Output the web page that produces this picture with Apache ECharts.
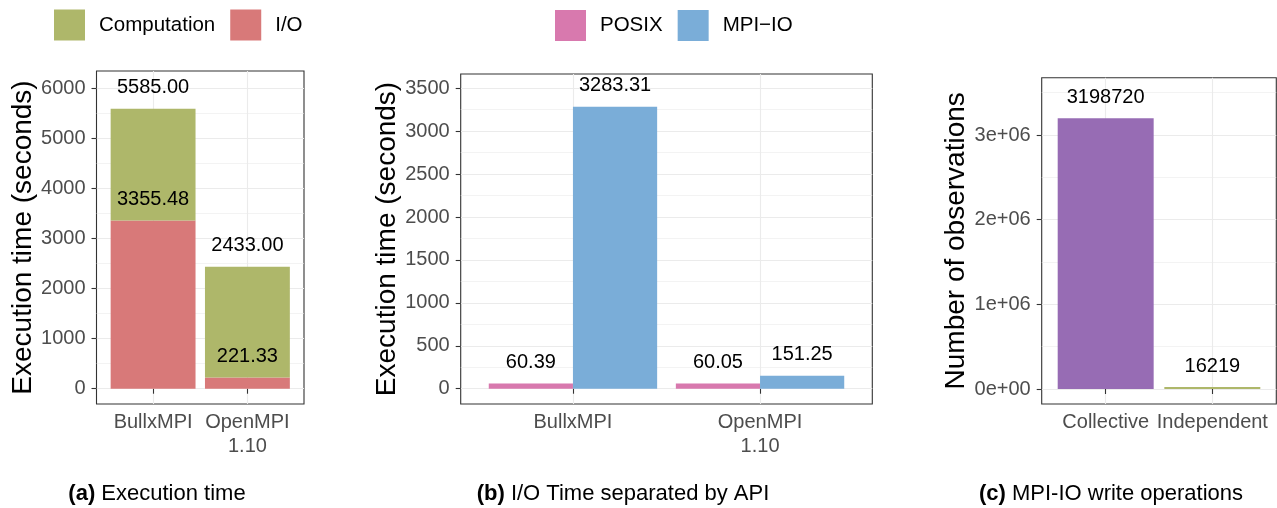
<!DOCTYPE html>
<html><head><meta charset="utf-8">
<script src="https://cdn.jsdelivr.net/npm/echarts@6/dist/echarts.min.js"></script>
<style>html,body{margin:0;padding:0;background:#fff}#c{width:1277px;height:508px}</style>
</head><body><div id="c"></div>
<script>
// ---- Panel (a): execution time ----
const mpiCategories = ['BullxMPI', 'OpenMPI\n1.10'];
const ioTime = [3355.48, 221.33];
const totalTime = [5585.00, 2433.00];
const computationTime = totalTime.map((t, i) => +(t - ioTime[i]).toFixed(2));
// ---- Panel (b): I/O time by API ----
const posixTime = [60.39, 60.05];
const mpiioTime = [3283.31, 151.25];
// ---- Panel (c): MPI-IO write operations ----
const writeCategories = ['Collective', 'Independent'];
const writeCounts = [3198720, 16219];
// ---- Tick values / labels ----
const ticksA = [0, 1000, 2000, 3000, 4000, 5000, 6000];
const minorA = [500, 1500, 2500, 3500, 4500, 5500];
const ticksB = [0, 500, 1000, 1500, 2000, 2500, 3000, 3500];
const minorB = [250, 750, 1250, 1750, 2250, 2750, 3250];
const ticksC = [0, 1000000, 2000000, 3000000];
const tickLabelsC = ['0e+00', '1e+06', '2e+06', '3e+06'];
const minorC = [500000, 1500000, 2500000, 3500000];

const COL = {comp: '#AEB76A', io: '#D87979', posix: '#D879AE', mpiio: '#7AADD8', coll: '#976CB4', indep: '#AEB76A'};
const FONT = 'Liberation Sans';

// layout of the three panels (pixels) and y-ranges
const panels = [
  {left: 96.5, right: 304, top: 71, bottom: 404, yMin: -305, yMax: 6339},
  {left: 460.7, right: 872.3, top: 74, bottom: 404, yMin: -178, yMax: 3666},
  {left: 1041.7, right: 1276.3, top: 77.7, bottom: 404, yMin: -177000, yMax: 3677000}
];
const grids = [];
panels.forEach(p => {
  const w = p.right - p.left, unit = w / 2.2;
  grids.push({left: p.left, top: p.top, width: w, height: p.bottom - p.top, show: true,
    borderColor: '#333333', borderWidth: 1.1, backgroundColor: '#fff', containLabel: false});
  grids.push({left: p.left + 0.1 * unit, top: p.top, width: 2 * unit, height: p.bottom - p.top, containLabel: false});
});

function outerX(gi, cats) {
  return {type: 'value', gridIndex: gi, min: 0.4, max: 2.6,
    axisLine: {show: false},
    axisTick: {show: true, customValues: [1, 2], length: 5, lineStyle: {color: '#333', width: 1.1}},
    axisLabel: {customValues: [1, 2], formatter: v => cats[Math.round(v) - 1], margin: 6,
      fontSize: 20, lineHeight: 24, color: '#4D4D4D', fontFamily: FONT},
    splitLine: {show: true, lineStyle: {color: '#EBEBEB', width: 1.1}}};
}
function innerX(gi, cats) { return {type: 'category', gridIndex: gi, data: cats, show: false}; }
function majorY(gi, p, ticks, fmt, name, gap) {
  return {type: 'value', gridIndex: gi, min: p.yMin, max: p.yMax, position: 'left',
    axisLine: {show: false},
    axisTick: {show: true, customValues: ticks, length: 5, lineStyle: {color: '#333', width: 1.1}},
    axisLabel: {customValues: ticks, formatter: fmt, margin: 11, fontSize: 20, color: '#4D4D4D', fontFamily: FONT},
    splitLine: {show: true, lineStyle: {color: '#EBEBEB', width: 1.1}},
    name: name, nameLocation: 'middle', nameGap: gap,
    nameTextStyle: {fontSize: 28, color: '#000', fontFamily: FONT}};
}
function minorY(gi, p, minors) {
  return {type: 'value', gridIndex: gi, min: p.yMin, max: p.yMax, position: 'right',
    axisLine: {show: false}, axisTick: {show: false, customValues: minors},
    axisLabel: {show: false, customValues: minors},
    splitLine: {show: true, lineStyle: {color: '#EBEBEB', width: 0.6}}};
}
function innerY(gi, p) { return {type: 'value', gridIndex: gi, min: p.yMin, max: p.yMax, show: false}; }

const labelStyle = {show: true, position: 'top', distance: 11, fontSize: 20, color: '#000', fontFamily: FONT};

const option = {
  animation: false,
  backgroundColor: '#fff',
  textStyle: {fontFamily: FONT},
  grid: grids,
  xAxis: [
    outerX(0, mpiCategories), innerX(1, mpiCategories),
    outerX(2, mpiCategories), innerX(3, mpiCategories),
    outerX(4, writeCategories), innerX(5, writeCategories)
  ],
  yAxis: [
    majorY(0, panels[0], ticksA, v => String(v), 'Execution time (seconds)', 58), minorY(0, panels[0], minorA), innerY(1, panels[0]),
    majorY(2, panels[1], ticksB, v => String(v), 'Execution time (seconds)', 58), minorY(2, panels[1], minorB), innerY(3, panels[1]),
    majorY(4, panels[2], ticksC, v => tickLabelsC[ticksC.indexOf(v)], 'Number of observations', 70), minorY(4, panels[2], minorC), innerY(5, panels[2])
  ],
  legend: [
    {data: ['Computation', 'I/O'], left: 54, top: 9.5, padding: 0, itemWidth: 31, itemHeight: 31, itemGap: 15,
      icon: 'rect', textStyle: {fontSize: 20.5, color: '#000', fontFamily: FONT, padding: [0, 0, 0, 9]}},
    {data: ['POSIX', 'MPI\u2212IO'], left: 555, top: 10, padding: 0, itemWidth: 31, itemHeight: 31, itemGap: 15,
      icon: 'rect', textStyle: {fontSize: 20.5, color: '#000', fontFamily: FONT, padding: [0, 0, 0, 9]}}
  ],
  series: [
    {name: 'I/O', type: 'bar', xAxisIndex: 1, yAxisIndex: 2, stack: 'a', barWidth: '90%', data: ioTime,
      itemStyle: {color: COL.io}, label: Object.assign({}, labelStyle, {formatter: p => p.value.toFixed(2)})},
    {name: 'Computation', type: 'bar', xAxisIndex: 1, yAxisIndex: 2, stack: 'a', barWidth: '90%', data: computationTime,
      itemStyle: {color: COL.comp}, label: Object.assign({}, labelStyle, {formatter: p => totalTime[p.dataIndex].toFixed(2)})},
    {name: 'POSIX', type: 'bar', xAxisIndex: 3, yAxisIndex: 5, barGap: '0%', barCategoryGap: '10%', data: posixTime,
      itemStyle: {color: COL.posix}, label: Object.assign({}, labelStyle, {formatter: p => p.value.toFixed(2)})},
    {name: 'MPI\u2212IO', type: 'bar', xAxisIndex: 3, yAxisIndex: 5, barGap: '0%', barCategoryGap: '10%', data: mpiioTime,
      itemStyle: {color: COL.mpiio}, label: Object.assign({}, labelStyle, {formatter: p => p.value.toFixed(2)})},
    {name: 'Write operations', type: 'bar', xAxisIndex: 5, yAxisIndex: 8, barWidth: '90%', barMinHeight: 2,
      data: writeCounts.map((v, i) => ({value: v, itemStyle: {color: i === 0 ? COL.coll : COL.indep}})),
      label: Object.assign({}, labelStyle, {formatter: p => String(p.value)})}
  ],
  graphic: [
    {type: 'text', x: 157, y: 494, style: {text: '{b|(a)} Execution time', align: 'center', verticalAlign: 'middle',
      fontSize: 22, fontFamily: FONT, fill: '#000', rich: {b: {fontWeight: 'bold', fontSize: 22, fontFamily: FONT}}}},
    {type: 'text', x: 623, y: 494, style: {text: '{b|(b)} I/O Time separated by API', align: 'center', verticalAlign: 'middle',
      fontSize: 22, fontFamily: FONT, fill: '#000', rich: {b: {fontWeight: 'bold', fontSize: 22, fontFamily: FONT}}}},
    {type: 'text', x: 1111, y: 494, style: {text: '{b|(c)} MPI-IO write operations', align: 'center', verticalAlign: 'middle',
      fontSize: 22, fontFamily: FONT, fill: '#000', rich: {b: {fontWeight: 'bold', fontSize: 22, fontFamily: FONT}}}}
  ]
};
const chart = echarts.init(document.getElementById('c'), null, {renderer: 'canvas'});
chart.setOption(option);
</script></body></html>
